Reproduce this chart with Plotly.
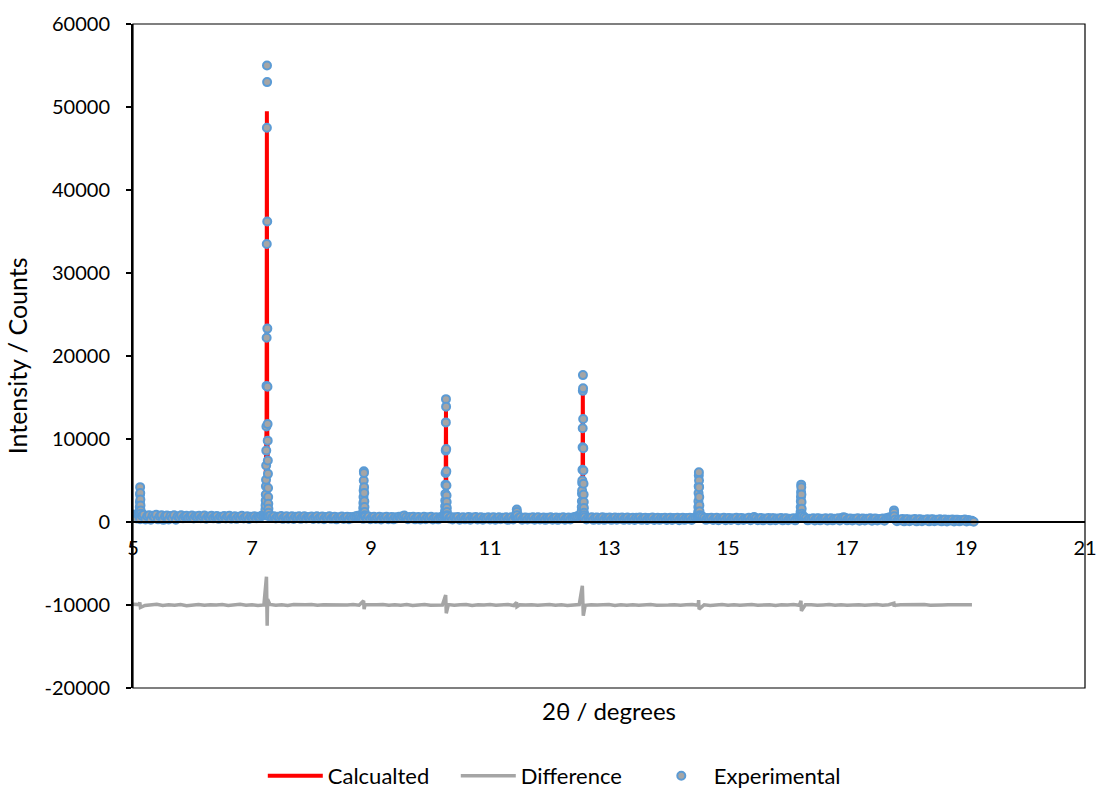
import plotly.graph_objects as go

# ---------------- data ----------------
# Experimental background scan: 2theta grid start/step and intensities
bg_start = 5.00
bg_step = 0.03
bg_y = [
    900, 700, 420, 840, 340, 760, 880, 300, 700, 820, 280, 750, 560, 860, 320, 700, 800, 260, 680, 780, 300, 720, 480, 820, 280,
    700, 560, 800, 440, 680, 760, 480, 620, 780, 420, 700, 560, 740, 460, 640, 780, 400, 660, 540, 760, 440, 620, 720, 380, 640,
    540, 720, 420, 660, 760, 400, 600, 700, 380, 640, 520, 740, 420, 580, 700, 360, 620, 520, 700, 440, 640, 560, 760, 820, 900,
    860, 700, 760, 540, 680, 420, 640, 560, 720, 380, 600, 680, 400, 560, 700, 360, 620, 520, 680, 380, 580, 700, 420, 600, 520,
    660, 360, 580, 700, 400, 540, 660, 340, 600, 480, 680, 380, 560, 640, 320, 580, 500, 660, 360, 540, 620, 340, 600, 460, 640,
    700, 760, 640, 520, 380, 620, 460, 660, 330, 560, 640, 360, 520, 620, 300, 580, 460, 640, 340, 540, 600, 320, 560, 460, 620,
    500, 700, 780, 560, 340, 600, 460, 620, 320, 540, 600, 300, 520, 640, 340, 560, 440, 620, 300, 520, 580, 320, 540, 640, 740,
    800, 680, 420, 580, 300, 560, 460, 600, 280, 520, 580, 320, 500, 600, 280, 540, 440, 600, 300, 500, 560, 280, 520, 420, 580,
    300, 520, 580, 280, 480, 560, 340, 520, 420, 580, 260, 500, 560, 300, 640, 700, 480, 560, 280, 500, 540, 300, 520, 400, 560,
    280, 500, 560, 300, 460, 540, 260, 520, 400, 560, 280, 480, 540, 260, 500, 420, 560, 280, 480, 540, 300, 500, 580, 640, 700,
    780, 820, 720, 560, 300, 520, 440, 560, 260, 500, 540, 280, 480, 560, 260, 520, 400, 540, 260, 480, 540, 280, 500, 400, 540,
    260, 480, 540, 280, 460, 520, 240, 500, 380, 540, 260, 460, 520, 240, 480, 400, 540, 240, 460, 520, 260, 480, 380, 520, 240,
    460, 520, 240, 480, 380, 520, 220, 460, 500, 260, 480, 380, 520, 240, 460, 560, 620, 700, 740, 660, 520, 260, 480, 380, 500,
    240, 460, 500, 220, 440, 360, 500, 220, 460, 480, 240, 440, 360, 500, 220, 440, 480, 240, 420, 360, 500, 220, 520, 600, 460,
    220, 440, 480, 200, 420, 340, 480, 200, 440, 460, 220, 420, 340, 480, 200, 420, 460, 220, 400, 340, 460, 200, 440, 560, 660,
    720, 600, 440, 200, 400, 320, 460, 180, 420, 440, 200, 400, 320, 460, 180, 400, 440, 200, 380, 320, 440, 180, 480, 560, 500,
    200, 400, 420, 180, 380, 300, 440, 160, 400, 420, 180, 380, 300, 440, 160, 380, 420, 180, 360, 300, 420, 160, 440, 520, 580,
    540, 460, 300, 100, 300, 220, 360, 80, 320, 340, 100, 300, 220, 360, 80, 300, 340, 100, 280, 220, 340, 80, 300, 320, 100,
    260, 180, 320, 80, 280, 300, 60, 260, 180, 300, 60, 260, 280, 80, 240, 180, 300, 60, 240, 160, 140, 40,
]

# Experimental Bragg-peak points (2theta, counts)
pk1_x = [5.110, 5.112, 5.114, 5.116, 5.118, 5.120, 5.122, 5.124, 5.126, 5.128, 5.130]
pk1_y = [900, 1300, 1800, 2400, 3300, 4200, 3500, 2700, 2000, 1400, 1000]
pk2_x = [7.222, 7.224, 7.226, 7.228, 7.230, 7.232, 7.234, 7.236, 7.238, 7.240, 7.242, 7.244, 7.246, 7.248, 7.250,
         7.252, 7.254, 7.256, 7.258, 7.260, 7.262, 7.264, 7.266, 7.268, 7.270, 7.272, 7.274, 7.276, 7.278]
pk2_y = [800, 1100, 1500, 2000, 2600, 3300, 4300, 5100, 6800, 8600, 11500, 16400, 22200, 33500, 47500,
         55000, 53000, 36200, 23300, 16300, 11800, 9800, 7400, 5800, 4100, 3000, 2200, 1600, 1100]
pk3_x = [8.866, 8.868, 8.870, 8.872, 8.874, 8.876, 8.878, 8.880, 8.882, 8.884, 8.886, 8.888, 8.890, 8.892, 8.894]
pk3_y = [800, 1200, 1700, 2300, 3000, 3800, 5000, 6100, 5900, 4200, 3500, 2500, 1800, 1200, 800]
pk4_x = [10.242, 10.244, 10.246, 10.248, 10.250, 10.252, 10.254, 10.256, 10.258, 10.260,
         10.262, 10.264, 10.266, 10.268, 10.270, 10.272, 10.274, 10.276, 10.278]
pk4_y = [900, 1300, 1900, 2600, 3400, 4500, 5900, 8600, 12000, 14800,
         13900, 8800, 6100, 4400, 3200, 2400, 1700, 1200, 800]
pk5_x = [11.446, 11.448, 11.450, 11.452, 11.454]
pk5_y = [700, 1100, 1500, 1200, 800]
pk6_x = [12.538, 12.540, 12.542, 12.544, 12.546, 12.548, 12.550, 12.552, 12.554, 12.556, 12.558, 12.560,
         12.562, 12.564, 12.566, 12.568, 12.570, 12.572, 12.574, 12.576, 12.578, 12.580, 12.582]
pk6_y = [900, 1300, 1800, 2500, 3400, 3800, 4700, 5000, 6300, 9000, 11300, 15800,
         17700, 16100, 12400, 8900, 6200, 4600, 3300, 2400, 1700, 1100, 800]
pk7_x = [14.497, 14.499, 14.501, 14.503, 14.505, 14.507, 14.509, 14.511, 14.513, 14.515, 14.517, 14.519, 14.521, 14.523]
pk7_y = [800, 1200, 1800, 2500, 3500, 4300, 5600, 6000, 5000, 4200, 3000, 2000, 1300, 800]
pk8_x = [16.218, 16.220, 16.222, 16.224, 16.226, 16.228, 16.230, 16.232, 16.234, 16.236, 16.238, 16.240, 16.242]
pk8_y = [700, 1200, 1800, 2500, 3000, 3600, 4500, 4200, 3300, 2400, 1600, 1000, 700]
pk9_x = [17.786, 17.788, 17.790, 17.792, 17.794]
pk9_y = [600, 1000, 1400, 1100, 700]

# Calculated pattern
calc_x = [5.00, 5.10, 5.11, 5.12, 5.13, 5.14, 5.50, 6.00, 6.50, 7.00,
          7.22, 7.245, 7.25, 7.255, 7.28, 7.50, 8.00, 8.50,
          8.86, 8.875, 8.88, 8.885, 8.90, 9.50, 10.00,
          10.24, 10.255, 10.26, 10.265, 10.28, 10.50, 11.00,
          11.44, 11.45, 11.46, 12.00,
          12.54, 12.555, 12.56, 12.565, 12.58, 13.00, 14.00,
          14.49, 14.505, 14.51, 14.515, 14.53, 15.00, 16.00,
          16.21, 16.225, 16.23, 16.235, 16.25, 17.00,
          17.78, 17.79, 17.80, 18.00, 19.13]
calc_y = [800, 650, 1500, 4000, 1500, 650, 600, 540, 520, 520,
          600, 12000, 49500, 12000, 650, 520, 490, 470,
          480, 2000, 5800, 2000, 480, 450, 430,
          450, 4000, 13800, 4000, 450, 420, 400,
          400, 1400, 400, 400,
          420, 5000, 16000, 5000, 420, 390, 360,
          360, 2000, 5700, 2000, 360, 330, 310,
          320, 1500, 4300, 1500, 320, 300,
          290, 1300, 290, 270, 220]

# Difference curve (offset by -10000): grid start/step and values, plus spikes
diff_start = 5.0
diff_step = 0.1
diff_y = [
    -9900, -9950, -10050, -9980, -9920, -10060, -9970, -10020, -9940, -10080,
    -9990, -9930, -10040, -9970, -10010, -9950, -10060, -9980, -9920, -10030,
    -9960, -10050, -9990, -9940, -10020, -9970, -10060, -9950, -10010, -9980,
    -9930, -10040, -9970, -10000, -9950, -10050, -9990, -9940, -10030, -9960,
    -10010, -9980, -9930, -10040, -9970, -10020, -9950, -10060, -9990, -9940,
    -10030, -9970, -10010, -9950, -10040, -9980, -9930, -10050, -9970, -10000,
    -9950, -10030, -9990, -9940, -10060, -9970, -10010, -9960, -10040, -9980,
    -9930, -10020, -9970, -10050, -9990, -9950, -10030, -9960, -10010, -9980,
    -9940, -10050, -9970, -10020, -9960, -10040, -9990, -9950, -10030, -9970,
    -10010, -9960, -10040, -9980, -9940, -10030, -9970, -10060, -9990, -9950,
    -10020, -9970, -10040, -9980, -9950, -10030, -9990, -9960, -10050, -9970,
    -10010, -9950, -10040, -9980, -9960, -10030, -9990, -9950, -10020, -9970,
    -10040, -9980, -9960, -10030, -9990, -9950, -10020, -9970, -10040, -9980,
    -9960, -10010, -9990, -9950, -10030, -9970, -10000, -9980, -9960, -10010,
    -9990, -9980,
]
diff_spk_x = [5.115, 5.125, 7.243, 7.249, 7.255, 7.262, 8.876, 8.884, 10.255, 10.265, 11.447, 11.453,
              12.552, 12.560, 12.568, 14.506, 14.514, 16.226, 16.234, 17.787, 17.793]
diff_spk_y = [-9700, -10300, -6600, -9500, -12500, -9300, -9500, -10500, -8800, -11000, -9700, -10200,
              -7700, -10500, -11300, -9400, -10500, -9500, -10700, -9800, -10200]

x_ticks = [5, 7, 9, 11, 13, 15, 17, 19, 21]
y_ticks = [-20000, -10000, 0, 10000, 20000, 30000, 40000, 50000, 60000]
y_ticktext = ["-20000", "-10000", "0", "10000", "20000", "30000", "40000", "50000", "60000"]

# ---------------- assemble series ----------------
bg_x = [round(bg_start + bg_step * i, 4) for i in range(len(bg_y))]
exp_pts = list(zip(bg_x, bg_y))
for px, py in [(pk1_x, pk1_y), (pk2_x, pk2_y), (pk3_x, pk3_y), (pk4_x, pk4_y), (pk5_x, pk5_y),
               (pk6_x, pk6_y), (pk7_x, pk7_y), (pk8_x, pk8_y), (pk9_x, pk9_y)]:
    exp_pts += list(zip(px, py))
exp_pts.sort(key=lambda p: p[0])
exp_x = [p[0] for p in exp_pts]
exp_y = [p[1] for p in exp_pts]

dgrid_x = [round(diff_start + diff_step * i, 4) for i in range(len(diff_y))]
diff_pts = sorted(list(zip(dgrid_x, diff_y)) + list(zip(diff_spk_x, diff_spk_y)), key=lambda p: p[0])
d_x = [p[0] for p in diff_pts]
d_y = [p[1] for p in diff_pts]

FONT = "Lato"

fig = go.Figure()
fig.add_trace(go.Scatter(x=calc_x, y=calc_y, mode="lines", name="Calcualted",
                         line=dict(color="#FF0000", width=4)))
fig.add_trace(go.Scatter(x=d_x, y=d_y, mode="lines", name="Difference",
                         line=dict(color="#A5A5A5", width=3.5)))
fig.add_trace(go.Scatter(x=exp_x, y=exp_y, mode="markers", name="Experimental",
                         marker=dict(size=8, color="#A5A5A5", line=dict(color="#5B9BD5", width=2))))

fig.update_layout(
    width=1098, height=791,
    margin=dict(l=133, r=13, t=24, b=103, autoexpand=False),
    paper_bgcolor="white", plot_bgcolor="white",
    font=dict(family=FONT, size=20, color="black"),
    showlegend=True,
    legend=dict(orientation="h", xref="container", yref="container", x=0.503, xanchor="center",
                y=0.019, yanchor="middle", font=dict(family=FONT, size=22, color="black"),
                itemwidth=55, entrywidth=123, tracegroupgap=0),
    xaxis=dict(range=[5, 21], tickvals=x_ticks, ticktext=[str(v) for v in x_ticks],
               anchor="free", position=0.25, showline=True, linecolor="black", linewidth=1.5,
               ticks="", showgrid=False, zeroline=False, ticklabelstandoff=8, automargin=False,
               tickfont=dict(family=FONT, size=20, color="black")),
    yaxis=dict(range=[-20000, 60000], tickvals=y_ticks, ticktext=y_ticktext,
               showline=True, linecolor="black", linewidth=2, ticks="outside", ticklen=5,
               tickwidth=1.5, tickcolor="black", showgrid=False, zeroline=False, automargin=False,
               ticklabelstandoff=12, tickfont=dict(family=FONT, size=20, color="black")),
    shapes=[dict(type="rect", xref="paper", yref="paper", x0=0, x1=1, y0=0, y1=1,
                 line=dict(color="black", width=1.2), layer="above")],
    annotations=[
        dict(text="2θ / degrees", xref="paper", yref="paper", x=0.5, y=-0.0346,
             xanchor="center", yanchor="middle", showarrow=False,
             font=dict(family=FONT, size=24, color="black")),
        dict(text="Intensity / Counts", xref="paper", yref="paper", x=-0.1215, y=0.5,
             xanchor="center", yanchor="middle", textangle=-90, showarrow=False,
             font=dict(family=FONT, size=25, color="black")),
    ],
)

fig.write_html("out.html")
